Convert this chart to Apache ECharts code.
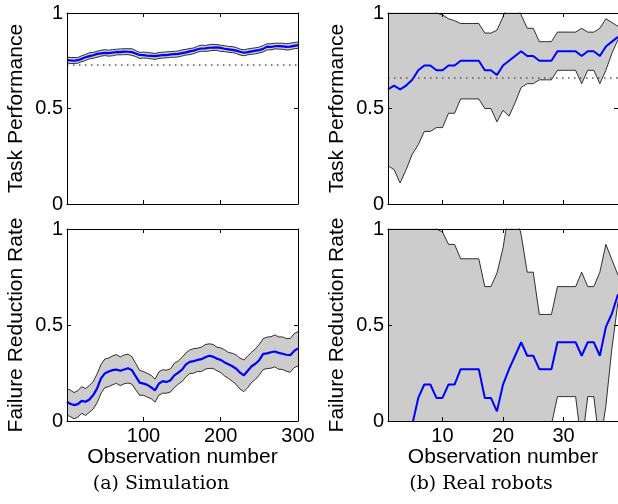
<!DOCTYPE html>
<html>
<head>
    <meta charset="utf-8">
    <title>Task performance and failure reduction</title>
    <script src="https://cdn.jsdelivr.net/npm/echarts@6/dist/echarts.min.js"></script>
</head>
<style>
    html, body {
        margin: 0;
        background: #fff;
    }
    #main {
        width: 618px;
        height: 504px;
    }
</style>
<body>
<div id='main'></div>
<script>
    // ---- data ----
    // (a) simulation, sampled every 5 observations
    var simX = [1, 5, 10, 15, 20, 25, 30, 35, 40, 45, 50, 55, 60, 65, 70, 75, 80, 85, 90, 95,
        100, 105, 110, 115, 120, 125, 130, 135, 140, 145, 150, 155, 160, 165, 170, 175, 180, 185, 190, 195,
        200, 205, 210, 215, 220, 225, 230, 235, 240, 245, 250, 255, 260, 265, 270, 275, 280, 285, 290, 295, 300];

    var simTaskMean = [0.754, 0.752, 0.750, 0.753, 0.760, 0.768, 0.774, 0.779, 0.786, 0.789,
        0.791, 0.790, 0.793, 0.796, 0.795, 0.798, 0.797, 0.795, 0.788, 0.780,
        0.779, 0.777, 0.776, 0.774, 0.777, 0.780, 0.779, 0.783, 0.785, 0.786,
        0.790, 0.794, 0.799, 0.803, 0.810, 0.814, 0.815, 0.818, 0.819, 0.820,
        0.817, 0.813, 0.810, 0.807, 0.803, 0.797, 0.792, 0.795, 0.799, 0.803,
        0.806, 0.812, 0.824, 0.822, 0.826, 0.827, 0.825, 0.823, 0.824, 0.828, 0.832];
    // distance of the upper / lower band edge from the mean
    var simTaskUpGap = [0.016, 0.015, 0.017, 0.014, 0.016, 0.015, 0.018, 0.015, 0.014, 0.016,
        0.017, 0.015, 0.016, 0.014, 0.017, 0.015, 0.016, 0.018, 0.015, 0.014,
        0.016, 0.017, 0.015, 0.014, 0.016, 0.015, 0.017, 0.016, 0.014, 0.015,
        0.017, 0.016, 0.015, 0.014, 0.016, 0.018, 0.015, 0.016, 0.017, 0.015,
        0.014, 0.016, 0.015, 0.017, 0.016, 0.014, 0.015, 0.017, 0.016, 0.015,
        0.016, 0.018, 0.015, 0.017, 0.016, 0.015, 0.017, 0.016, 0.018, 0.017, 0.016];
    var simTaskLowGap = [0.015, 0.017, 0.014, 0.016, 0.015, 0.017, 0.014, 0.016, 0.018, 0.015,
        0.014, 0.016, 0.017, 0.015, 0.014, 0.016, 0.015, 0.017, 0.016, 0.018,
        0.015, 0.014, 0.016, 0.017, 0.015, 0.016, 0.014, 0.015, 0.017, 0.016,
        0.015, 0.014, 0.017, 0.016, 0.015, 0.014, 0.016, 0.017, 0.015, 0.016,
        0.018, 0.015, 0.016, 0.014, 0.015, 0.017, 0.016, 0.014, 0.015, 0.017,
        0.015, 0.016, 0.017, 0.015, 0.014, 0.016, 0.015, 0.017, 0.016, 0.015, 0.017];

    var simFailMean = [0.100, 0.090, 0.083, 0.088, 0.105, 0.100, 0.112, 0.135, 0.170, 0.222,
        0.248, 0.258, 0.265, 0.268, 0.262, 0.268, 0.275, 0.265, 0.232, 0.200,
        0.195, 0.188, 0.175, 0.160, 0.195, 0.208, 0.203, 0.212, 0.238, 0.252,
        0.268, 0.295, 0.308, 0.312, 0.318, 0.322, 0.332, 0.340, 0.335, 0.325,
        0.318, 0.305, 0.295, 0.285, 0.272, 0.252, 0.238, 0.262, 0.285, 0.298,
        0.318, 0.350, 0.352, 0.358, 0.362, 0.355, 0.350, 0.345, 0.343, 0.365, 0.378];
    var simFailUpGap = [0.068, 0.072, 0.065, 0.070, 0.074, 0.069, 0.073, 0.071, 0.076, 0.072,
        0.075, 0.070, 0.074, 0.078, 0.072, 0.076, 0.073, 0.070, 0.068, 0.064,
        0.062, 0.060, 0.063, 0.058, 0.061, 0.059, 0.062, 0.060, 0.063, 0.061,
        0.064, 0.060, 0.062, 0.065, 0.061, 0.063, 0.066, 0.062, 0.064, 0.060,
        0.063, 0.066, 0.062, 0.068, 0.072, 0.075, 0.080, 0.077, 0.074, 0.078,
        0.082, 0.079, 0.085, 0.081, 0.086, 0.083, 0.088, 0.084, 0.087, 0.090, 0.088];
    var simFailLowGap = [0.070, 0.066, 0.072, 0.068, 0.065, 0.071, 0.067, 0.072, 0.075, 0.078,
        0.074, 0.079, 0.076, 0.072, 0.078, 0.074, 0.077, 0.073, 0.070, 0.066,
        0.061, 0.064, 0.059, 0.062, 0.060, 0.063, 0.058, 0.061, 0.064, 0.060,
        0.062, 0.065, 0.061, 0.063, 0.060, 0.064, 0.062, 0.066, 0.061, 0.063,
        0.066, 0.070, 0.074, 0.078, 0.082, 0.086, 0.085, 0.088, 0.084, 0.081,
        0.078, 0.082, 0.079, 0.083, 0.080, 0.085, 0.082, 0.086, 0.089, 0.087, 0.092];

    // (b) real robots, one value per observation
    var realX = [1, 2, 3, 4, 5, 6, 7, 8, 9, 10, 11, 12, 13, 14, 15, 16, 17, 18, 19, 20,
        21, 22, 23, 24, 25, 26, 27, 28, 29, 30, 31, 32, 33, 34, 35, 36, 37, 38, 39];

    var realTaskMean = [0.60, 0.62, 0.60, 0.62, 0.65, 0.70, 0.725, 0.725, 0.70, 0.70,
        0.725, 0.725, 0.75, 0.75, 0.75, 0.75, 0.70, 0.70, 0.675, 0.725,
        0.75, 0.775, 0.80, 0.775, 0.775, 0.75, 0.75, 0.75, 0.80, 0.80,
        0.80, 0.80, 0.775, 0.80, 0.80, 0.775, 0.825, 0.85, 0.875];
    var realTaskUpper = [1.05, 1.05, 1.05, 1.05, 1.05, 1.05, 1.05, 1.05, 1.0, 0.99,
        0.97, 0.96, 0.945, 0.945, 0.945, 0.945, 0.895, 0.895, 0.91, 0.98,
        1.06, 1.05, 0.99, 0.92, 0.92, 0.85, 0.85, 0.85, 0.90, 0.90,
        0.90, 0.90, 0.92, 0.90, 0.90, 0.92, 0.97, 0.95, 0.93];
    var realTaskLower = [0.20, 0.18, 0.11, 0.18, 0.26, 0.31, 0.38, 0.38, 0.40, 0.40,
        0.475, 0.475, 0.55, 0.55, 0.55, 0.55, 0.50, 0.50, 0.43, 0.49,
        0.46, 0.53, 0.61, 0.63, 0.63, 0.65, 0.65, 0.65, 0.70, 0.70,
        0.70, 0.70, 0.63, 0.70, 0.70, 0.63, 0.70, 0.79, 0.86];

    var realFailMean = [-0.20, -0.15, -0.15, -0.08, -0.02, 0.12, 0.19, 0.19, 0.12, 0.12,
        0.19, 0.19, 0.27, 0.27, 0.27, 0.27, 0.12, 0.12, 0.05, 0.19,
        0.27, 0.34, 0.41, 0.34, 0.34, 0.27, 0.27, 0.27, 0.41, 0.41,
        0.41, 0.41, 0.34, 0.41, 0.41, 0.34, 0.49, 0.56, 0.66];
    var realFailUpper = [1.10, 1.10, 1.10, 1.10, 1.10, 1.10, 1.10, 1.10, 1.0, 0.985,
        0.92, 0.92, 0.845, 0.845, 0.845, 0.845, 0.70, 0.70, 0.77, 0.90,
        1.10, 1.10, 0.97, 0.775, 0.775, 0.555, 0.555, 0.555, 0.70, 0.70,
        0.70, 0.70, 0.775, 0.70, 0.70, 0.775, 0.92, 0.84, 0.76];
    var realFailLower = [-0.20, -0.20, -0.20, -0.20, -0.20, -0.20, -0.20, -0.20, -0.20, -0.20,
        -0.20, -0.20, -0.20, -0.20, -0.20, -0.20, -0.20, -0.20, -0.20, -0.20,
        -0.20, -0.20, -0.20, -0.20, -0.20, -0.20, -0.20, -0.02, 0.127, 0.127,
        0.127, 0.127, -0.13, 0.127, 0.127, -0.13, 0.08, 0.38, 0.62];

    // dotted reference levels (task performance panels)
    var refLevels = [0.728, 0.655];

    // axis ticks
    var simTicks = [100, 200, 300];
    var realTicks = [10, 20, 30];
    var simRange = [1, 300];
    var realRange = [1, 39];

    // ---- chart ----
    var SANS = 'Liberation Sans';
    var chart = echarts.init(document.getElementById('main'), null, {renderer: 'canvas'});

    function pairs(xs, ys) {
        return xs.map(function (x, i) { return [x, ys[i]]; });
    }

    var grids = [
        {left: 67, top: 13, width: 231, height: 191},
        {left: 67, top: 229, width: 231, height: 192},
        {left: 388, top: 13, width: 232, height: 191},
        {left: 388, top: 229, width: 232, height: 192}
    ];

    var panels = [
        {x: simX, mean: simTaskMean,
            lo: simTaskMean.map(function (m, i) { return m - simTaskLowGap[i]; }),
            hi: simTaskMean.map(function (m, i) { return m + simTaskUpGap[i]; }),
            ref: refLevels[0], range: simRange, ticks: simTicks, bottom: false, yName: 'Task Performance', lw: 2.2},
        {x: simX, mean: simFailMean,
            lo: simFailMean.map(function (m, i) { return m - simFailLowGap[i]; }),
            hi: simFailMean.map(function (m, i) { return m + simFailUpGap[i]; }),
            ref: null, range: simRange, ticks: simTicks, bottom: true, yName: 'Failure Reduction Rate', lw: 2.2},
        {x: realX, mean: realTaskMean, lo: realTaskLower, hi: realTaskUpper,
            ref: refLevels[1], range: realRange, ticks: realTicks, bottom: false, yName: 'Task Performance', lw: 2},
        {x: realX, mean: realFailMean, lo: realFailLower, hi: realFailUpper,
            ref: null, range: realRange, ticks: realTicks, bottom: true, yName: 'Failure Reduction Rate', lw: 2}
    ];

    var xAxes = [], yAxes = [], series = [];
    var axisLineStyle = {color: '#000', width: 1};

    panels.forEach(function (p, g) {
        xAxes.push({
            type: 'value', gridIndex: g, position: 'bottom', z: 5,
            min: p.range[0], max: p.range[1],
            axisLine: {show: true, onZero: false, lineStyle: axisLineStyle},
            axisTick: {show: true, inside: true, length: 4, customValues: p.ticks, lineStyle: axisLineStyle},
            axisLabel: {show: p.bottom, customValues: p.ticks, color: '#000', fontSize: 20, fontFamily: SANS, margin: 5},
            splitLine: {show: false},
            name: p.bottom ? 'Observation number' : '',
            nameLocation: 'middle', nameGap: 24,
            nameTextStyle: {color: '#000', fontSize: 21, fontFamily: SANS}
        });
        xAxes.push({
            type: 'value', gridIndex: g, position: 'top', z: 5,
            min: p.range[0], max: p.range[1],
            axisLine: {show: true, onZero: false, lineStyle: axisLineStyle},
            axisTick: {show: true, inside: true, length: 4, customValues: p.ticks, lineStyle: axisLineStyle},
            axisLabel: {show: false},
            splitLine: {show: false}
        });
        yAxes.push({
            type: 'value', gridIndex: g, position: 'left', z: 5,
            min: 0, max: 1, interval: 0.5,
            axisLine: {show: true, onZero: false, lineStyle: axisLineStyle},
            axisTick: {show: true, inside: true, length: 4, lineStyle: axisLineStyle},
            axisLabel: {color: '#000', fontSize: 20, fontFamily: SANS, margin: 4},
            splitLine: {show: false},
            name: p.yName, nameLocation: 'middle', nameGap: 40, nameRotate: 90,
            nameTextStyle: {color: '#000', fontSize: 21, fontFamily: SANS}
        });
        yAxes.push({
            type: 'value', gridIndex: g, position: 'right', z: 5,
            min: 0, max: 1, interval: 0.5,
            axisLine: {show: true, onZero: false, lineStyle: axisLineStyle},
            axisTick: {show: true, inside: true, length: 4, lineStyle: axisLineStyle},
            axisLabel: {show: false},
            splitLine: {show: false}
        });

        // upper edge: grey fill down to the axis
        series.push({
            type: 'line', xAxisIndex: 2 * g, yAxisIndex: 2 * g,
            data: pairs(p.x, p.hi), symbol: 'none', silent: true, z: 1,
            lineStyle: {color: '#000', width: 0.8},
            areaStyle: {color: '#cccccc', opacity: 1, origin: 'start'}
        });
        // lower edge: white fill below it cuts the band out
        series.push({
            type: 'line', xAxisIndex: 2 * g, yAxisIndex: 2 * g,
            data: pairs(p.x, p.lo), symbol: 'none', silent: true, z: 2,
            lineStyle: {color: '#000', width: 0.8},
            areaStyle: {color: '#ffffff', opacity: 1, origin: 'start'}
        });
        // mean
        var meanSeries = {
            type: 'line', xAxisIndex: 2 * g, yAxisIndex: 2 * g,
            data: pairs(p.x, p.mean), symbol: 'none', silent: true, z: 3,
            lineStyle: {color: '#0000ff', width: p.lw}
        };
        if (p.ref !== null) {
            meanSeries.markLine = {
                silent: true, symbol: 'none', label: {show: false},
                lineStyle: {color: '#555', width: 1.5, type: [1.5, 4.5]},
                data: [{yAxis: p.ref}]
            };
        }
        series.push(meanSeries);
    });

    var option = {
        backgroundColor: '#fff',
        animation: false,
        grid: grids,
        xAxis: xAxes,
        yAxis: yAxes,
        series: series,
        graphic: [
            {type: 'text', x: 161, y: 484, silent: true,
                style: {text: '(a) Simulation', fill: '#000', font: '19px "DejaVu Serif"', align: 'center', verticalAlign: 'middle'}},
            {type: 'text', x: 481, y: 484, silent: true,
                style: {text: '(b) Real robots', fill: '#000', font: '19px "DejaVu Serif"', align: 'center', verticalAlign: 'middle'}}
        ]
    };

    chart.setOption(option);
</script>
</body>
</html>
